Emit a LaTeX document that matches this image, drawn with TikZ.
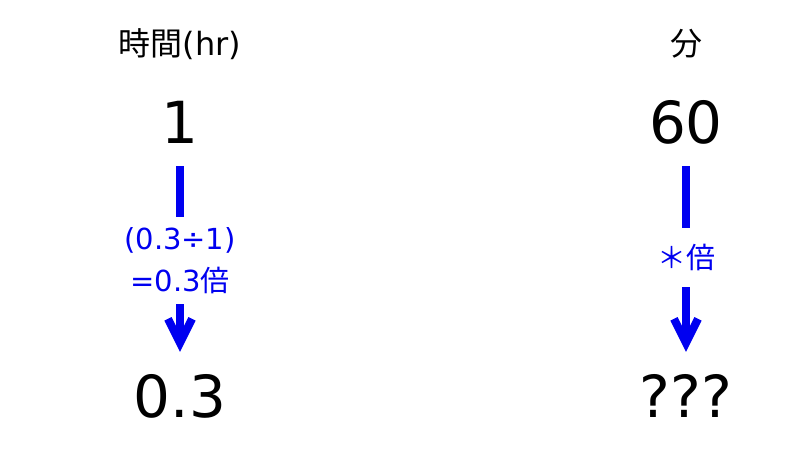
\documentclass[tikz,border=0pt]{standalone}
\usepackage{fontspec}
\setmainfont{DejaVu Sans}
\newfontfamily\jpfont{Noto Sans CJK JP}
\usetikzlibrary{arrows.meta}
\definecolor{rateblue}{RGB}{0,0,240}
\begin{document}
\begin{tikzpicture}[x=1pt,y=-1pt,
    heading/.style={font=\fontsize{32}{34}\selectfont, anchor=base, inner sep=0},
    amount/.style={font=\fontsize{58}{60}\selectfont, anchor=base, inner sep=0, text height=43pt, text depth=0pt},
    factor/.style={font=\fontsize{29}{42}\selectfont, text=rateblue, align=center, inner sep=0},
    bar/.style={rateblue, line width=8pt},
    down/.style={bar, -{Straight Barb[length=24pt,width=24pt]}}]
      \fill[white] (0,0) rectangle (800,450);
      \node[heading] (hourhead) at (180,55) {{\jpfont 時間}(hr)};
      \node[heading] (minhead) at (686,55) {\jpfont 分};
      \node[amount] (hourone) at (180,143) {1};
      \node[amount] (minsixty) at (686,143) {60};
      \node[factor, minimum height=87pt] (hourrate) at (180,260.5) {(0.3÷1)\\=0.3{\jpfont 倍}};
      \node[factor, minimum height=59pt] (minrate) at (686,257.5) {\jpfont ＊倍};
      \node[amount] (hourpart) at (180,417) {0.3};
      \node[amount] (minpart) at (686,417) {???};
      \draw[bar, shorten <=23pt] (hourone) -- (hourrate);
      \draw[down, shorten >=22pt] (hourrate) -- (hourpart);
      \draw[bar, shorten <=23pt] (minsixty) -- (minrate);
      \draw[down, shorten >=22pt] (minrate) -- (minpart);
\end{tikzpicture}
\end{document}
